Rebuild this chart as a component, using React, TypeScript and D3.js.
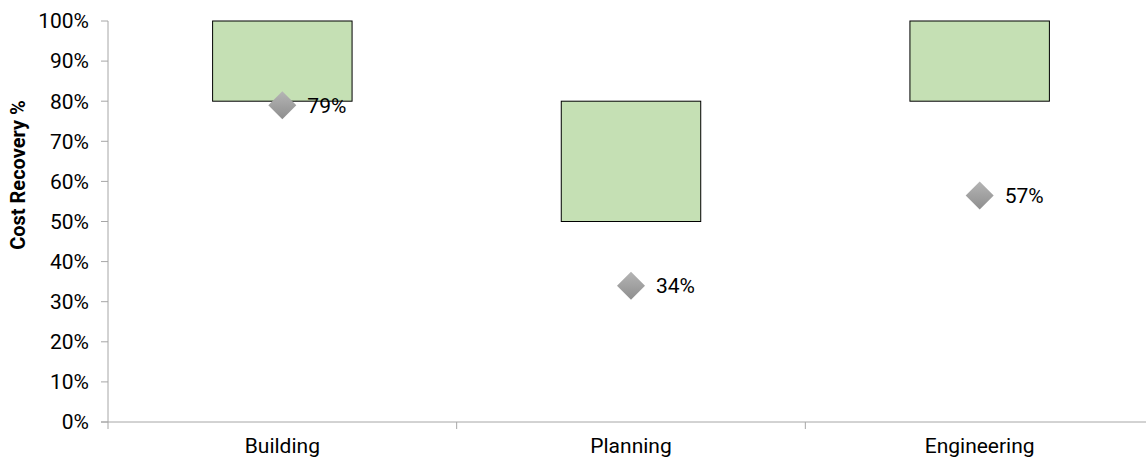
import React from "react";
import * as d3 from "d3";

const categories = ["Building", "Planning", "Engineering"];
const rangeLow = [0.8, 0.5, 0.8];
const rangeHigh = [1.0, 0.8, 1.0];
const actual = [0.79, 0.34, 0.565];
const actualLabels = ["79%", "34%", "57%"];
const yTicks = [0, 0.1, 0.2, 0.3, 0.4, 0.5, 0.6, 0.7, 0.8, 0.9, 1.0];

const W = 1146;
const H = 462;
const left = 108;
const right = 1154;
const top = 21;
const bottom = 422;
const FONT = "Roboto, 'Liberation Sans', Arial, sans-serif";

export default function App() {
  const x = d3.scaleBand<string>().domain(categories).range([left, right]).paddingInner(0).paddingOuter(0);
  const y = d3.scaleLinear().domain([0, 1]).range([bottom, top]);
  const bw = x.bandwidth() * 0.4;
  const fmt = d3.format(".0%");
  const boundaries = [left, ...categories.map((c) => (x(c) as number) + x.bandwidth())];

  return (
    <svg width={W} height={H} style={{ position: "absolute", left: 0, top: 0, background: "#fff" }}>
      <defs>
        <linearGradient id="dg" x1="0" y1="0" x2="0" y2="1">
          <stop offset="0" stopColor="#b5b5b5" />
          <stop offset="1" stopColor="#8e8e8e" />
        </linearGradient>
      </defs>
      {/* y axis */}
      <line x1={left} x2={left} y1={top} y2={bottom} stroke="#a6a6a6" strokeWidth={1} />
      {yTicks.map((t) => (
        <g key={t}>
          <line x1={left - 7} x2={left} y1={y(t)} y2={y(t)} stroke="#a6a6a6" />
          <text x={left - 19} y={y(t)} dy="0.35em" textAnchor="end" fontFamily={FONT} fontSize={21} fill="#000">
            {fmt(t)}
          </text>
        </g>
      ))}
      {/* x axis */}
      <line x1={left - 7} x2={W} y1={bottom} y2={bottom} stroke="#a6a6a6" strokeWidth={1} />
      {boundaries.map((b, i) => (
        <line key={i} x1={b} x2={b} y1={bottom} y2={bottom + 7} stroke="#a6a6a6" />
      ))}
      {categories.map((c) => (
        <text key={c} x={(x(c) as number) + x.bandwidth() / 2} y={453} textAnchor="middle" fontFamily={FONT} fontSize={21} fill="#000">
          {c}
        </text>
      ))}
      {/* title */}
      <text transform={`translate(25,175) rotate(-90)`} textAnchor="middle" fontFamily={FONT} fontSize={20} fontWeight="bold" fill="#000">
        Cost Recovery %
      </text>
      {/* bars */}
      {categories.map((c, i) => {
        const cx = (x(c) as number) + x.bandwidth() / 2;
        return (
          <rect key={c} x={cx - bw / 2} y={y(rangeHigh[i])} width={bw} height={y(rangeLow[i]) - y(rangeHigh[i])} fill="#c5e0b4" stroke="#000" strokeWidth={1} />
        );
      })}
      {/* diamonds */}
      {categories.map((c, i) => {
        const cx = (x(c) as number) + x.bandwidth() / 2;
        const cy = y(actual[i]);
        const r = 14;
        return (
          <g key={c}>
            <path d={`M${cx},${cy - r}L${cx + r},${cy}L${cx},${cy + r}L${cx - r},${cy}Z`} fill="url(#dg)" />
            <text x={cx + 25} y={cy} dy="0.35em" fontFamily={FONT} fontSize={21} fill="#000">
              {actualLabels[i]}
            </text>
          </g>
        );
      })}
    </svg>
  );
}
